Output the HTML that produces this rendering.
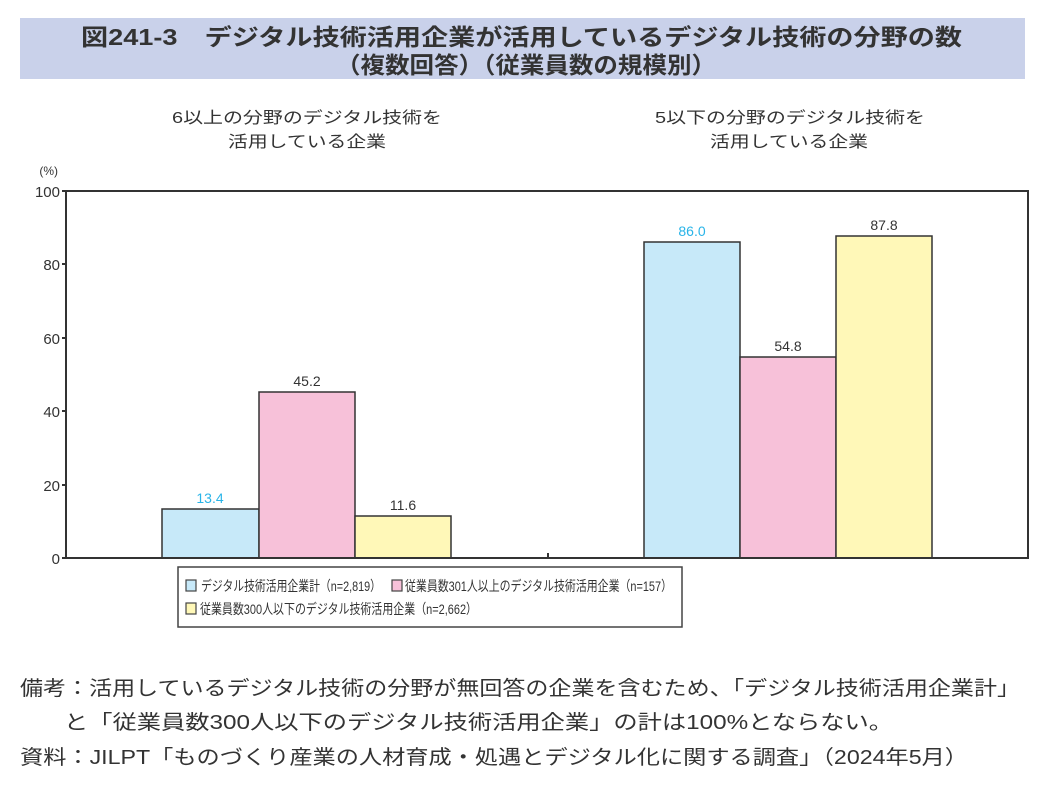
<!DOCTYPE html>
<html><head><meta charset="utf-8"><style>
body{margin:0;background:#fff;width:1050px;height:789px;overflow:hidden;font-family:"Liberation Sans","Noto Sans CJK JP",sans-serif;color:#333}
</style></head><body>
<svg width="1050" height="789" style="position:absolute;left:0;top:0" font-family="Liberation Sans, Noto Sans CJK JP, sans-serif">
<rect x="20" y="18" width="1005" height="61" fill="#c9d1ea"/>
<g font-size="23" font-weight="bold" fill="#333" lengthAdjust="spacingAndGlyphs">
<text x="81" y="45" textLength="881" lengthAdjust="spacingAndGlyphs">図241-3　デジタル技術活用企業が活用しているデジタル技術の分野の数</text>
<text x="336" y="73" textLength="380" lengthAdjust="spacingAndGlyphs">（複数回答）（従業員数の規模別）</text>
</g>
<g font-size="16" fill="#333">
<text x="172" y="123" textLength="270" lengthAdjust="spacingAndGlyphs">6以上の分野のデジタル技術を</text>
<text x="228" y="147" textLength="158" lengthAdjust="spacingAndGlyphs">活用している企業</text>
<text x="655" y="123" textLength="270" lengthAdjust="spacingAndGlyphs">5以下の分野のデジタル技術を</text>
<text x="710" y="147" textLength="158" lengthAdjust="spacingAndGlyphs">活用している企業</text>
</g>
<g font-size="15" fill="#333" text-anchor="end">
<text x="58" y="175" font-size="12">(%)</text>
<text x="60" y="197">100</text><text x="60" y="270">80</text><text x="60" y="344">60</text><text x="60" y="417">40</text><text x="60" y="491">20</text><text x="60" y="564">0</text>
</g>
<g stroke="#333" stroke-width="1.5">
<rect x="162" y="509" width="97" height="49" fill="#c7e9f9"/>
<rect x="259" y="392" width="96" height="166" fill="#f7c1d9"/>
<rect x="355" y="516" width="96" height="42" fill="#fff8b8"/>
<rect x="644" y="242" width="96" height="316" fill="#c7e9f9"/>
<rect x="740" y="357" width="96" height="201" fill="#f7c1d9"/>
<rect x="836" y="236" width="96" height="322" fill="#fff8b8"/>
</g>
<g stroke="#333" stroke-width="2" fill="none">
<polyline points="66,191 1028,191 1028,558 66,558 66,191"/>
<path d="M66,264h-4M66,338h-4M66,411h-4M66,485h-4M66,558h-4M66,191h-4M548,558v-5"/>
</g>
<g font-size="14" text-anchor="middle" fill="#333">
<text x="210" y="503" fill="#29b4e8">13.4</text>
<text x="307" y="386">45.2</text>
<text x="403" y="510">11.6</text>
<text x="692" y="236" fill="#29b4e8">86.0</text>
<text x="788" y="351">54.8</text>
<text x="884" y="230">87.8</text>
</g>
<rect x="178" y="567" width="504" height="60" fill="#fff" stroke="#444" stroke-width="1.5"/>
<g stroke="#444" stroke-width="1.2">
<rect x="186" y="580" width="10" height="11" fill="#c7e9f9"/>
<rect x="392" y="580" width="10" height="11" fill="#f7c1d9"/>
<rect x="186" y="603" width="10" height="11" fill="#fff8b8"/>
</g>
<g font-size="14" fill="#333">
<text x="201" y="591" textLength="180" lengthAdjust="spacingAndGlyphs">デジタル技術活用企業計（n=2,819）</text>
<text x="405" y="591" textLength="267" lengthAdjust="spacingAndGlyphs">従業員数301人以上のデジタル技術活用企業（n=157）</text>
<text x="200" y="614" textLength="277" lengthAdjust="spacingAndGlyphs">従業員数300人以下のデジタル技術活用企業（n=2,662）</text>
</g>
<g font-size="20" fill="#333">
<text x="20" y="695" textLength="1000" lengthAdjust="spacingAndGlyphs">備考：活用しているデジタル技術の分野が無回答の企業を含むため、「デジタル技術活用企業計」</text>
<text x="64" y="729" textLength="829" lengthAdjust="spacingAndGlyphs">と「従業員数300人以下のデジタル技術活用企業」の計は100%とならない。</text>
<text x="20" y="764" textLength="948" lengthAdjust="spacingAndGlyphs">資料：JILPT「ものづくり産業の人材育成・処遇とデジタル化に関する調査」（2024年5月）</text>
</g>
</svg>
</body></html>
